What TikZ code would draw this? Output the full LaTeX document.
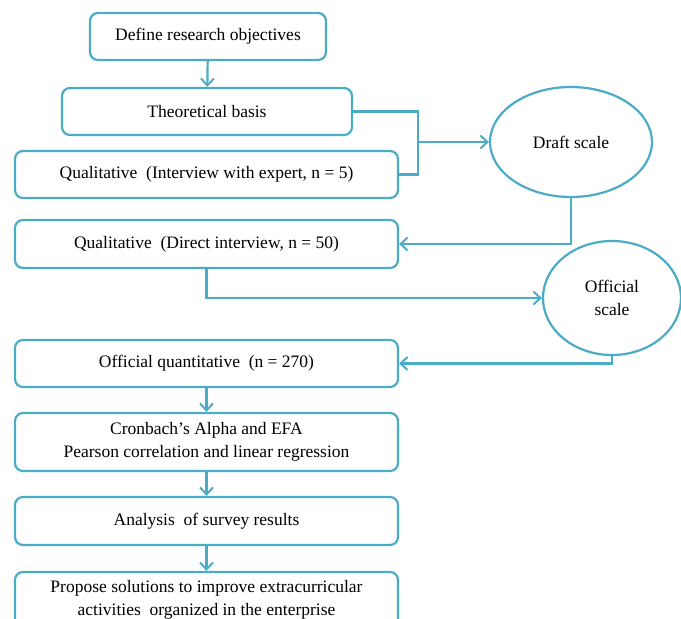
\documentclass[tikz,border=0pt]{standalone}
\usepackage{fontspec}
\setmainfont{Liberation Serif}
\usetikzlibrary{arrows.meta}
\definecolor{flowblue}{HTML}{4BACC6}
\tikzset{
  stepbox/.style={draw=flowblue, line width=2.2pt, rounded corners=8pt, fill=white,
    align=center, inner sep=2pt, font=\fontsize{17.5}{22.5}\selectfont},
  scalebox/.style={draw=flowblue, line width=2.2pt, ellipse, fill=white,
    align=center, inner sep=0pt, font=\fontsize{17.5}{22.5}\selectfont},
  flow/.style={draw=flowblue, line width=2.2pt, -{Straight Barb[length=7pt,width=13pt,line width=2pt]}},
  link/.style={draw=flowblue, line width=2.2pt}
}
\usetikzlibrary{shapes.geometric}
\begin{document}
\begin{tikzpicture}[x=1pt,y=-1pt]
                \useasboundingbox (0,0) rectangle (681,619);

                \node[stepbox, minimum width=236pt, minimum height=47pt] (objectives) at (208,36.5) {Define research objectives};
                \node[stepbox, minimum width=290pt, minimum height=47pt] (theory) at (207,111.5) {Theoretical basis};
                \node[stepbox, minimum width=383pt, minimum height=47pt] (expert) at (206.5,174.5) {Qualitative~ (Interview with expert, n = 5)};
                \node[stepbox, minimum width=383pt, minimum height=48pt] (direct) at (206.5,244) {Qualitative~ (Direct interview, n = 50)};
                \node[stepbox, minimum width=383pt, minimum height=47pt] (quant) at (206.5,363.5) {Official quantitative~ (n = 270)};
                \node[stepbox, minimum width=383pt, minimum height=58pt] (tests) at (206.5,442) {Cronbach's Alpha and EFA\\Pearson correlation and linear regression};
                \node[stepbox, minimum width=383pt, minimum height=48pt] (survey) at (206.5,521) {Analysis~ of survey results};
                \node[stepbox, minimum width=383pt, minimum height=56pt] (solutions) at (206.5,600) {Propose solutions to improve extracurricular\\activities~ organized in the enterprise};

                \node[scalebox, minimum width=162pt, minimum height=110pt] (draft) at (571,142) {Draft scale};
                \node[scalebox, minimum width=138pt, minimum height=114pt] (official) at (612,298) {Official\\scale};

                \coordinate (join) at (418,142);

                \draw[flow] (objectives) -- (theory);
                \draw[link] (theory.east) -| (join) |- (expert.east);
                \draw[flow] (join) -- (draft.west);
                \draw[flow] (draft.south) |- (direct.east);
                \draw[flow] (direct.south) |- (official.west);
                \draw[flow] (official.south) |- (quant.east);
                \draw[flow] (quant) -- (tests);
                \draw[flow] (tests) -- (survey);
                \draw[flow] (survey) -- (solutions);
            \end{tikzpicture}
\end{document}
